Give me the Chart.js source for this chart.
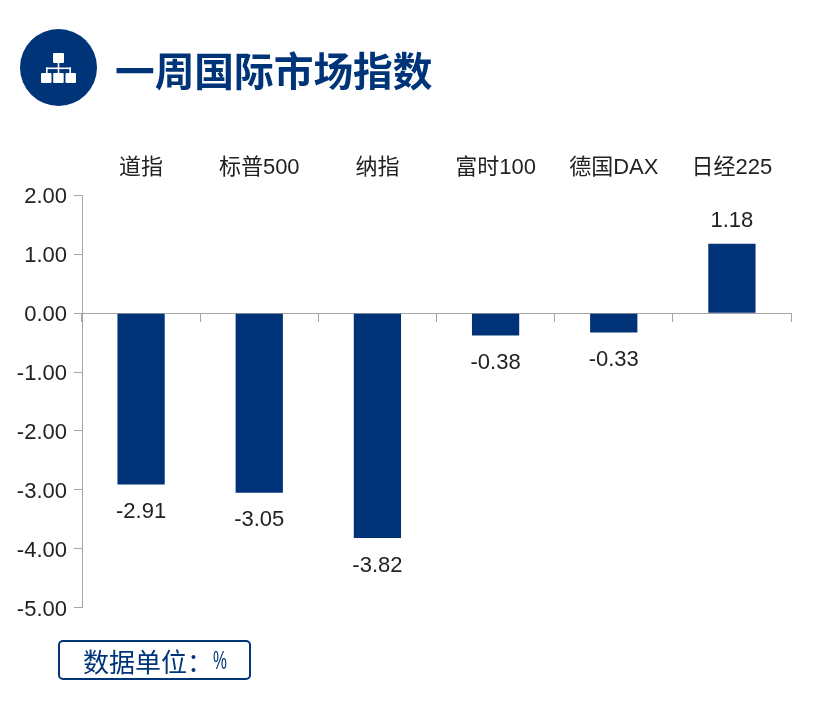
<!DOCTYPE html>
<html lang="zh">
<head>
<meta charset="utf-8">
<title>一周国际市场指数</title>
<script src="https://cdn.jsdelivr.net/npm/chart.js@4"></script>
<style>
  html, body { margin: 0; padding: 0; background: #fff; }
  #page { position: relative; width: 832px; height: 716px; overflow: hidden; }
  #chart-box { position: absolute; left: 0; top: 0; width: 832px; height: 716px; }
  #icon { position: absolute; left: 20px; top: 29px; width: 77px; height: 77px; }
  #title {
    position: absolute; left: 115px; top: 41px;
    font: 700 39.7px/56px "Noto Sans CJK SC", sans-serif; color: #003478; white-space: nowrap;
  }
  #unit {
    position: absolute; left: 58px; top: 640px; width: 189px; height: 36px;
    border: 2px solid #003478; border-radius: 5px; color: #003478;
    font: 400 26px/37px "Noto Sans CJK SC", sans-serif; white-space: nowrap;
  }
  #unit .txt { position: absolute; left: 23px; top: 0; }
  #unit .pct {
    position: absolute; left: 153px; top: 0; font-family: "Liberation Sans", sans-serif;
    transform: scaleX(0.6); transform-origin: left center;
  }
</style>
</head>
<body>
<div id="page">
  <div id="chart-box"><canvas id="chart"></canvas></div>
  <svg id="icon" viewBox="0 0 77 77">
    <circle cx="38.5" cy="38.5" r="38.5" fill="#003478"/>
    <g fill="#fff">
      <rect x="33" y="24" width="11" height="10" rx="1"/>
      <rect x="21" y="44" width="10.5" height="10" rx="1"/>
      <rect x="33.2" y="44" width="10.5" height="10" rx="1"/>
      <rect x="45.5" y="44" width="10.5" height="10" rx="1"/>
      <rect x="37.7" y="34" width="1.6" height="10"/>
      <rect x="26" y="38.5" width="25" height="1.6"/>
      <rect x="26" y="38.5" width="1.6" height="5.5"/>
      <rect x="49.4" y="38.5" width="1.6" height="5.5"/>
    </g>
  </svg>
  <div id="title">一周国际市场指数</div>
  <div id="unit"><span class="txt">数据单位：</span><span class="pct">%</span></div>
</div>
<script>
const categories = ["道指", "标普500", "纳指", "富时100", "德国DAX", "日经225"];
const values = [-2.91, -3.05, -3.82, -0.38, -0.33, 1.18];
const valueLabels = ["-2.91", "-3.05", "-3.82", "-0.38", "-0.33", "1.18"];

const fontFamily = '"Liberation Sans", "Noto Sans CJK SC", sans-serif';
const textColor = "#222222";
const axisColor = "#a6a6a6";

// value labels under / over the bars
const barLabels = {
  id: "barLabels",
  afterDatasetsDraw(chart) {
    const ctx = chart.ctx;
    const bars = chart.getDatasetMeta(0).data;
    ctx.save();
    ctx.font = "22px " + fontFamily;
    ctx.fillStyle = textColor;
    ctx.textAlign = "center";
    ctx.textBaseline = "middle";
    bars.forEach(function (bar, i) {
      const offset = values[i] < 0 ? 27.5 : -23;
      ctx.fillText(valueLabels[i], bar.x, bar.y + offset);
    });
    ctx.restore();
  }
};

new Chart(document.getElementById("chart"), {
  type: "bar",
  data: {
    labels: categories,
    datasets: [{
      data: values,
      backgroundColor: "#003278",
      barPercentage: 0.4,
      categoryPercentage: 1
    }]
  },
  options: {
    responsive: true,
    maintainAspectRatio: false,
    animation: false,
    layout: { padding: { left: 0, right: 41, top: 140, bottom: 108.5 } },
    plugins: { legend: { display: false }, tooltip: { enabled: false } },
    scales: {
      // axis line and ticks sit on the zero line
      x: {
        type: "category",
        position: { y: 0 },
        grid: { drawOnChartArea: false, drawTicks: true, tickLength: 8, color: axisColor, offset: true },
        border: { display: true, color: axisColor, width: 1 },
        ticks: { display: false }
      },
      // category names along the top
      xTop: {
        type: "category",
        position: "top",
        labels: categories,
        grid: { display: false, drawTicks: false },
        border: { display: false },
        ticks: {
          color: textColor,
          font: { family: fontFamily, size: 22 },
          padding: 14.5,
          maxRotation: 0,
          autoSkip: false
        }
      },
      y: {
        min: -5,
        max: 2,
        afterFit(axis) { axis.width = 82; },
        grid: { drawOnChartArea: false, drawTicks: true, tickLength: 8, color: axisColor },
        border: { display: true, color: axisColor, width: 1 },
        ticks: {
          stepSize: 1,
          color: textColor,
          font: { family: fontFamily, size: 22 },
          padding: 7,
          labelOffset: 2,
          callback: function (v) { return Number(v).toFixed(2); }
        }
      }
    }
  },
  plugins: [barLabels]
});
</script>
</body>
</html>
